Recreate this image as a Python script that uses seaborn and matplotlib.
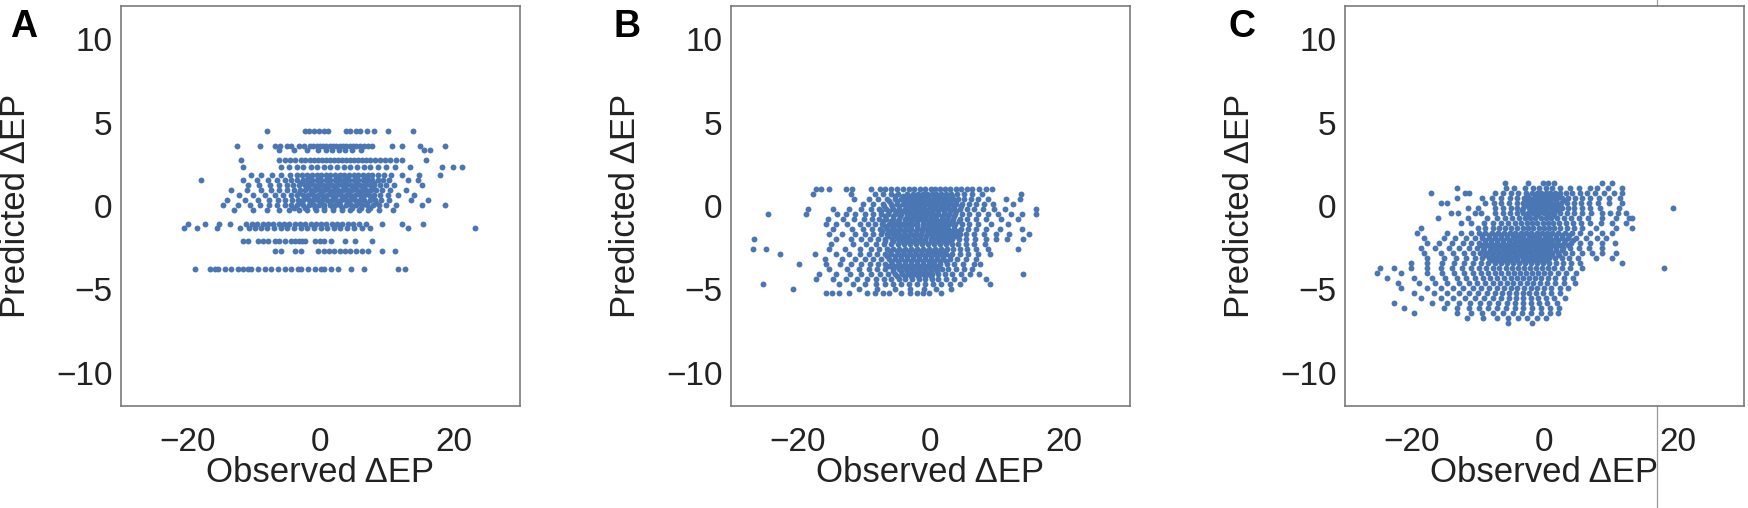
import matplotlib
matplotlib.use("Agg")
import matplotlib.pyplot as plt
from matplotlib.lines import Line2D
import pandas as pd
import seaborn as sns

# Panel A: predicted values fall on discrete levels, observed values per level
a_levels = [4.5, 3.6, 3.35, 2.75, 2.35, 1.85, 1.55, 1.25, 0.95, 0.65, 0.35, 0.05, -0.25, -1.1, -1.3, -2.1, -2.7, -3.8]
a_obs = [
    [-8.1, -2.3, -1.7, -1.0, -0.2, 0.6, 1.2, 3.9, 4.5, 5.3, 6.0, 7.0, 8.1, 10.2, 13.9],
    [-12.6, -9.1, -6.8, -6.1, -5.0, -4.4, -3.3, -2.5, -1.6, -1.1, -0.6, -0.1, 0.4, 0.9, 1.4, 1.9, 2.4, 2.9, 3.4, 3.9, 4.4, 4.9, 5.4, 5.9, 6.5, 7.2, 7.8, 10.7, 12.2, 14.9, 18.7],
    [-6.3, -4.0, -2.0, -0.4, 0.8, 1.7, 2.8, 3.7, 4.8, 6.1, 15.6, 16.4],
    [-12.0, -6.2, -5.3, -4.6, -3.8, -3.0, -2.3, -1.6, -1.0, -0.4, 0.2, 0.8, 1.4, 2.0, 2.6, 3.2, 3.8, 4.4, 5.0, 5.6, 6.2, 6.8, 7.5, 8.2, 8.9, 9.7, 10.4, 11.3, 12.3, 15.8],
    [-11.7, -6.0, -4.8, -3.6, -2.6, -1.5, -0.5, 0.5, 1.5, 2.5, 3.5, 4.5, 5.5, 6.5, 7.5, 8.6, 9.8, 11.2, 13.4, 18.2, 19.9, 21.3],
    [-10.4, -8.9, -7.3, -5.9, -4.6, -3.6, -2.8, -2.0, -1.3, -0.6, 0.1, 0.8, 1.5, 2.2, 2.9, 3.6, 4.3, 5.0, 5.7, 6.4, 7.1, 7.8, 8.6, 9.5, 10.6, 12.2, 14.8, 17.9],
    [-17.9, -11.7, -9.6, -7.9, -6.6, -5.4, -4.4, -3.5, -2.7, -2.0, -1.3, -0.6, 0.1, 0.8, 1.5, 2.2, 2.9, 3.6, 4.3, 5.0, 5.7, 6.4, 7.1, 7.8, 8.6, 9.4, 10.3, 13.1, 14.6],
    [-10.9, -9.2, -7.6, -6.3, -5.1, -4.1, -3.2, -2.4, -1.7, -1.0, -0.3, 0.4, 1.1, 1.8, 2.5, 3.2, 3.9, 4.6, 5.3, 6.0, 6.7, 7.4, 8.1, 8.9, 9.8, 11.0, 15.2],
    [-13.4, -11.0, -9.0, -7.5, -6.2, -5.0, -4.0, -3.1, -2.3, -1.5, -0.8, -0.1, 0.6, 1.3, 2.0, 2.7, 3.4, 4.1, 4.8, 5.5, 6.2, 6.9, 7.6, 8.4, 9.3, 10.4, 12.9],
    [-12.2, -10.1, -8.3, -6.8, -5.6, -4.5, -3.6, -2.7, -1.9, -1.1, -0.4, 0.3, 1.0, 1.7, 2.4, 3.1, 3.8, 4.5, 5.2, 5.9, 6.6, 7.3, 8.1, 9.0, 10.1, 11.6, 14.0],
    [-14.1, -11.3, -9.4, -7.8, -6.4, -5.3, -4.3, -3.4, -2.6, -1.8, -1.1, -0.4, 0.3, 1.0, 1.7, 2.4, 3.1, 3.8, 4.5, 5.2, 5.9, 6.6, 7.4, 8.2, 9.1, 10.3, 13.6, 16.2],
    [-14.6, -12.4, -10.6, -9.1, -7.7, -6.5, -5.4, -4.4, -3.5, -2.6, -1.8, -1.0, -0.2, 0.6, 1.4, 2.2, 3.0, 3.8, 4.6, 5.4, 6.2, 7.0, 7.9, 8.8, 9.9, 11.3, 15.2, 18.7],
    [-13.0, -10.2, -8.0, -6.2, -4.7, -3.3, -2.0, -0.7, 0.6, 1.9, 3.2, 4.5, 5.8, 7.2, 8.8, 10.9],
    [-20.0, -17.4, -15.3, -13.6, -11.2, -10.3, -9.5, -8.7, -7.9, -7.1, -6.3, -5.5, -4.7, -3.9, -3.1, -2.3, -1.5, -0.7, 0.1, 0.9, 1.7, 2.5, 3.3, 4.1, 4.9, 5.8, 6.8, 9.3, 12.3, 15.4],
    [-20.6, -18.6, -15.6, -12.1, -10.8, -9.8, -8.9, -8.0, -7.0, -6.0, -5.0, -4.0, -3.0, -2.0, -1.0, 0.0, 1.0, 2.0, 3.0, 4.0, 5.1, 6.2, 7.4, 13.2, 23.2],
    [-11.6, -10.9, -9.4, -8.7, -7.9, -6.9, -6.2, -5.4, -4.4, -3.9, -3.3, -2.8, -2.3, -0.8, -0.1, 0.6, 1.6, 3.7, 5.2, 7.7],
    [-6.9, -5.9, -3.9, -2.9, -0.4, 0.5, 1.3, 2.1, 2.9, 3.7, 4.5, 5.4, 6.2, 7.2, 9.2, 11.2],
    [-18.9, -16.6, -15.9, -15.4, -14.4, -13.4, -12.4, -11.7, -10.9, -10.4, -9.4, -8.4, -7.4, -6.4, -5.4, -4.4, -3.4, -2.9, -1.9, -0.9, 0.1, 0.6, 1.6, 2.6, 4.6, 6.6, 11.7, 12.7],
]
# extra points in the dense centre of panel A
a_core_levels = [1.7, 1.4, 1.1, 0.8, 0.5, 0.2, -0.1]
a_core_obs = [
    [-1.6, -0.2, 1.2, 2.6, 4.0, 5.4, 6.8],
    [-3.0, -1.6, -0.3, 1.1, 2.5, 3.9, 5.3, 6.7, 8.0],
    [-2.0, -0.6, 0.8, 2.2, 3.6, 5.0, 6.4, 7.8],
    [-3.2, -1.5, 0.0, 1.4, 2.8, 4.2, 5.6, 7.0],
    [-2.2, -0.8, 0.6, 2.0, 3.4, 4.8, 6.2, 7.7],
    [-3.0, -1.4, 0.0, 1.4, 2.8, 4.2, 5.6, 7.0, 8.4],
    [-4.0, -2.3, -0.9, 0.5, 1.9, 3.3, 4.7, 6.1, 7.5],
]

# Panel B
b_levels = [1.0, 0.75, 0.45, 0.15, -0.15, -0.45, -0.75, -1.05, -1.35, -1.65, -1.95, -2.25, -2.55, -2.85, -3.15, -3.45, -3.75, -4.05, -4.35, -4.65, -4.95, -5.2]
b_obs = [
    [-17.2, -16.4, -15.3, -12.7, -11.8, -9.0, -7.6, -6.8, -6.0, -5.0, -4.2, -3.3, -2.5, -1.6, -0.8, 0.0, 0.7, 1.5, 2.2, 3.0, 3.8, 4.6, 5.5, 6.3, 7.3, 8.4, 9.3],
    [-17.6, -12.0, -8.3, -7.2, -5.9, -4.9, -3.6, -2.6, -1.9, -1.2, -0.5, 0.2, 0.9, 1.6, 2.3, 3.1, 4.0, 5.0, 6.2, 7.8, 13.6],
    [-11.5, -9.2, -7.9, -6.6, -5.4, -4.5, -3.7, -3.0, -2.3, -1.6, -0.9, -0.2, 0.5, 1.2, 1.9, 2.6, 3.4, 4.2, 5.1, 6.1, 7.2, 8.6, 11.4, 13.4],
    [-10.1, -8.7, -7.2, -6.0, -5.0, -4.1, -3.3, -2.5, -1.8, -1.1, -0.4, 0.3, 1.0, 1.7, 2.4, 3.1, 3.9, 4.8, 5.8, 6.9, 8.1, 9.4, 12.4],
    [-18.4, -14.6, -12.2, -10.5, -9.0, -7.8, -6.7, -5.7, -4.8, -3.9, -3.1, -2.3, -1.5, -0.8, -0.1, 0.6, 1.3, 2.0, 2.8, 3.6, 4.5, 5.5, 6.6, 7.9, 9.6, 11.2, 15.9],
    [-24.5, -18.7, -14.0, -12.7, -11.3, -9.9, -8.6, -7.5, -6.4, -5.4, -4.5, -3.6, -2.8, -2.0, -1.2, -0.4, 0.4, 1.2, 2.0, 2.8, 3.7, 4.7, 5.8, 7.1, 8.6, 10.2, 12.1, 13.7, 15.9],
    [-15.4, -13.1, -11.5, -10.0, -8.8, -7.7, -6.7, -5.7, -4.8, -3.9, -3.1, -2.3, -1.5, -0.7, 0.1, 0.9, 1.7, 2.5, 3.4, 4.4, 5.5, 6.8, 8.3, 10.6, 13.1],
    [-15.7, -14.2, -12.5, -10.6, -9.4, -8.3, -7.3, -6.3, -5.4, -4.5, -3.6, -2.8, -2.0, -1.2, -0.4, 0.4, 1.2, 2.0, 2.8, 3.7, 4.7, 5.8, 7.2, 9.1, 11.6],
    [-14.7, -11.8, -10.1, -8.8, -7.6, -6.5, -5.5, -4.6, -3.7, -2.9, -2.1, -1.3, -0.5, 0.3, 1.1, 1.9, 2.7, 3.6, 4.6, 5.7, 6.9, 8.4, 10.4, 13.7],
    [-15.2, -13.3, -11.4, -9.9, -8.6, -7.5, -6.5, -5.6, -4.7, -3.8, -3.0, -2.2, -1.4, -0.6, 0.2, 1.0, 1.8, 2.6, 3.5, 4.4, 5.4, 6.6, 8.0, 9.9, 11.8, 14.8],
    [-26.5, -14.2, -12.0, -10.4, -9.1, -7.9, -6.8, -5.8, -4.9, -4.0, -3.2, -2.4, -1.6, -0.8, 0.0, 0.8, 1.6, 2.4, 3.3, 4.3, 5.4, 6.7, 8.3, 9.9, 11.5, 13.9],
    [-15.0, -11.6, -9.7, -8.2, -7.0, -5.9, -4.9, -4.0, -3.1, -2.2, -1.3, -0.4, 0.5, 1.4, 2.3, 3.2, 4.2, 5.3, 6.6, 8.2],
    [-26.7, -24.7, -15.2, -12.8, -10.6, -9.0, -7.7, -6.6, -5.6, -4.7, -3.8, -2.9, -2.0, -1.1, -0.2, 0.7, 1.6, 2.5, 3.4, 4.4, 5.5, 6.9, 8.7, 13.2],
    [-22.7, -17.4, -14.2, -12.3, -10.6, -9.2, -8.0, -6.9, -5.9, -4.9, -4.0, -3.1, -2.2, -1.3, -0.4, 0.5, 1.4, 2.3, 3.3, 4.4, 5.7, 7.2, 9.0],
    [-15.9, -13.3, -11.4, -9.9, -8.6, -7.4, -6.3, -5.3, -4.4, -3.5, -2.6, -1.7, -0.8, 0.1, 1.0, 1.9, 2.9, 4.0, 5.3, 6.8],
    [-19.7, -15.7, -13.6, -11.9, -10.4, -9.1, -7.9, -6.8, -5.8, -4.8, -3.9, -3.0, -2.1, -1.2, -0.3, 0.6, 1.5, 2.5, 3.6, 4.9, 6.5, 7.4],
    [-15.2, -12.6, -10.8, -9.3, -8.0, -6.8, -5.7, -4.7, -3.7, -2.8, -1.9, -1.0, -0.1, 0.8, 1.7, 2.7, 3.8, 5.1, 6.2],
    [-16.8, -14.2, -12.1, -10.4, -8.9, -7.6, -6.4, -5.3, -4.3, -3.3, -2.4, -1.5, -0.6, 0.3, 1.2, 2.2, 3.3, 4.6, 6.0, 7.3, 13.9],
    [-17.2, -14.6, -12.7, -11.0, -9.5, -8.2, -7.0, -5.9, -4.8, -3.8, -2.8, -1.8, -0.8, 0.2, 1.2, 2.3, 3.5, 5.0, 8.4],
    [-25.2, -13.7, -11.6, -9.8, -8.2, -6.9, -5.6, -4.4, -3.2, -2.0, -0.8, 0.4, 1.6, 3.0, 4.4, 8.9],
    [-20.7, -10.7, -8.0, -5.4, -3.1, -1.0, 0.9, 3.1],
    [-15.7, -14.8, -13.7, -12.2, -9.5, -8.3, -7.2, -6.2, -4.4, -3.1, -2.1, -1.2, -0.3, 1.6],
]
b_core_levels = [0.6, 0.3, 0.0, -0.3, -0.6, -0.9, -1.2, -1.5, -1.8, -2.1, -2.7, -3.0, -3.3, -3.6, -3.9, -4.2]
b_core_obs = [
    [-5.3, -4.2, -3.2, -2.2, -1.3, -0.4, 0.5, 1.4, 2.3, 3.3],
    [-6.2, -5.0, -3.9, -2.9, -2.0, -1.2, -0.4, 0.4, 1.2, 2.0, 2.9, 3.9],
    [-7.0, -5.8, -4.7, -3.7, -2.8, -1.9, -1.0, -0.1, 0.8, 1.7, 2.6, 3.6, 4.6],
    [-7.4, -6.2, -5.1, -4.2, -3.3, -2.4, -1.6, -0.7, 0.2, 1.1, 2.0, 2.9, 3.9],
    [-6.8, -5.7, -4.6, -3.6, -2.7, -1.8, -0.9, 0.0, 0.9, 1.8, 2.7, 3.6],
    [-7.2, -6.0, -4.9, -3.9, -3.0, -2.1, -1.2, -0.3, 0.6, 1.5, 2.4, 3.3, 4.3],
    [-6.9, -5.8, -4.8, -3.8, -2.9, -2.0, -1.1, -0.2, 0.7, 1.6, 2.5, 3.5],
    [-7.3, -6.1, -5.0, -4.0, -3.1, -2.2, -1.3, -0.4, 0.5, 1.4, 2.3, 3.2, 4.2],
    [-6.4, -5.3, -4.3, -3.4, -2.5, -1.6, -0.7, 0.2, 1.1, 2.0, 2.9, 3.9],
    [-6.9, -5.6, -4.5, -3.5, -2.6, -1.7, -0.8, 0.1, 1.0, 1.9, 2.8],
    [-6.1, -5.1, -4.2, -3.3, -2.4, -1.5, -0.6, 0.3, 1.2, 2.1],
    [-6.5, -5.4, -4.4, -3.5, -2.6, -1.7, -0.8, 0.1, 1.0, 1.9, 2.9],
    [-5.9, -4.9, -3.9, -3.0, -2.1, -1.2, -0.3, 0.6, 1.5, 2.4],
    [-6.3, -5.2, -4.2, -3.3, -2.4, -1.5, -0.6, 0.3, 1.2],
    [-5.6, -4.5, -3.5, -2.6, -1.7, -0.8, 0.1, 1.0],
    [-5.0, -3.9, -2.9, -1.9, -0.9, 0.1],
]

# Panel C
c_levels = [1.4, 1.1, 0.8, 0.5, 0.2, -0.1, -0.4, -0.7, -1.0, -1.3, -1.6, -1.9, -2.2, -2.5, -2.8, -3.1, -3.4, -3.7, -4.0, -4.3, -4.6, -4.9, -5.2, -5.5, -5.8, -6.1, -6.4, -6.7, -7.0]
c_obs = [
    [-6.0, -2.5, -0.2, 0.5, 1.5, 8.7, 10.2],
    [-13.2, -5.8, -4.6, -2.9, -1.8, -0.9, 0.2, 1.1, 2.3, 3.9, 5.2, 6.8, 7.9, 9.6, 11.7],
    [-17.1, -12.0, -11.4, -7.5, -6.3, -5.0, -4.0, -2.8, -1.9, -1.2, -0.5, 0.2, 0.9, 1.6, 2.4, 3.3, 4.2, 5.3, 6.4, 7.6, 9.0, 10.5, 11.7],
    [-13.1, -9.4, -7.9, -6.5, -5.2, -4.1, -3.1, -2.3, -1.6, -0.9, -0.2, 0.5, 1.2, 1.9, 2.7, 3.6, 4.6, 5.7, 6.9, 8.2, 9.7, 11.3],
    [-15.6, -14.6, -9.0, -7.6, -6.5, -5.3, -4.2, -3.3, -2.5, -1.8, -1.1, -0.4, 0.3, 1.0, 1.7, 2.5, 3.4, 4.4, 5.5, 6.7, 8.0, 9.7, 11.7],
    [-11.5, -10.0, -7.4, -6.2, -5.1, -4.1, -3.2, -2.4, -1.7, -1.0, -0.3, 0.4, 1.1, 1.8, 2.6, 3.5, 4.5, 5.6, 6.9, 8.3, 11.2, 19.3],
    [-14.0, -13.0, -10.5, -9.5, -7.5, -6.3, -5.2, -4.2, -3.3, -2.5, -1.7, -0.9, -0.1, 0.7, 1.5, 2.4, 3.4, 4.5, 5.7, 7.0, 8.7, 9.8, 11.0, 12.2],
    [-16.0, -11.5, -8.6, -7.2, -6.0, -4.9, -3.9, -3.0, -2.2, -1.4, -0.6, 0.2, 1.0, 1.9, 2.9, 4.0, 5.2, 6.5, 8.7, 10.7, 12.7, 13.2],
    [-12.6, -11.0, -9.1, -7.8, -6.6, -5.5, -4.5, -3.6, -2.7, -1.9, -1.1, -0.3, 0.5, 1.3, 2.2, 3.2, 4.3, 5.5, 6.8, 8.5, 10.2, 12.2],
    [-18.6, -10.0, -8.9, -7.8, -6.8, -5.9, -5.0, -4.1, -3.3, -2.5, -1.7, -0.9, -0.1, 0.7, 1.5, 2.4, 3.4, 4.5, 5.7, 7.7, 10.7, 13.2],
    [-19.1, -14.6, -12.6, -11.0, -9.9, -8.9, -7.9, -7.0, -6.1, -5.2, -4.4, -3.6, -2.8, -2.0, -1.2, -0.4, 0.4, 1.2, 2.1, 3.1, 4.2, 5.4, 6.8, 8.7, 10.2],
    [-18.1, -15.1, -13.4, -11.8, -10.5, -9.4, -8.4, -7.5, -6.6, -5.7, -4.8, -4.0, -3.2, -2.4, -1.6, -0.8, 0.0, 0.8, 1.7, 2.6, 3.6, 4.8, 6.2, 7.9, 9.2],
    [-17.6, -15.8, -13.9, -12.3, -11.0, -9.9, -8.9, -8.0, -7.1, -6.2, -5.4, -4.6, -3.8, -3.0, -2.2, -1.4, -0.6, 0.2, 1.0, 1.9, 2.9, 4.0, 5.3, 6.9, 8.7, 10.6],
    [-18.6, -16.4, -14.4, -12.8, -11.4, -10.2, -9.1, -8.1, -7.2, -6.3, -5.5, -4.7, -3.9, -3.1, -2.3, -1.5, -0.7, 0.1, 0.9, 1.8, 2.8, 3.9, 5.2, 6.7, 8.7],
    [-18.1, -15.6, -13.7, -12.1, -10.8, -9.7, -8.7, -7.8, -6.9, -6.0, -5.2, -4.4, -3.6, -2.8, -2.0, -1.2, -0.4, 0.4, 1.2, 2.1, 3.1, 4.2, 5.6, 7.2, 8.7, 10.7],
    [-17.6, -15.1, -13.3, -11.8, -10.5, -9.4, -8.4, -7.5, -6.6, -5.7, -4.9, -4.1, -3.3, -2.5, -1.7, -0.9, -0.1, 0.7, 1.6, 2.6, 3.7, 5.0, 7.7, 10.2],
    [-20.1, -17.6, -15.4, -13.6, -12.1, -10.8, -9.6, -8.5, -7.5, -6.5, -5.6, -4.7, -3.8, -2.9, -2.0, -1.1, -0.2, 0.7, 1.7, 2.8, 4.0, 5.4, 11.7],
    [-24.7, -22.7, -20.1, -17.6, -15.6, -13.9, -12.4, -11.1, -9.9, -8.8, -7.8, -6.8, -5.8, -4.9, -4.0, -3.1, -2.2, -1.3, -0.4, 0.5, 1.5, 2.6, 3.8, 5.6, 18.0],
    [-25.2, -21.6, -17.7, -15.4, -13.6, -12.1, -10.8, -9.6, -8.5, -7.5, -6.5, -5.5, -4.6, -3.7, -2.8, -1.9, -1.0, -0.1, 0.9, 2.0, 3.3, 4.8],
    [-23.7, -19.6, -16.9, -14.9, -13.2, -11.8, -10.5, -9.3, -8.2, -7.1, -6.1, -5.1, -4.1, -3.2, -2.3, -1.4, -0.5, 0.5, 1.6, 2.9, 4.3],
    [-22.1, -18.9, -16.4, -14.6, -12.9, -11.4, -10.1, -8.9, -7.8, -6.7, -5.7, -4.7, -3.7, -2.7, -1.7, -0.7, 0.4, 1.6, 3.0, 4.6],
    [-21.6, -17.6, -15.6, -13.8, -12.2, -10.8, -9.5, -8.3, -7.2, -6.1, -5.1, -4.1, -3.1, -2.1, -1.1, -0.1, 1.0, 2.3, 3.6],
    [-19.6, -16.6, -14.6, -12.9, -11.4, -10.0, -8.7, -7.5, -6.4, -5.3, -4.3, -3.3, -2.3, -1.3, -0.2, 1.0, 2.4],
    [-18.6, -15.6, -13.7, -12.0, -10.5, -9.1, -7.8, -6.6, -5.4, -4.3, -3.2, -2.1, -1.0, 0.2, 1.5, 3.1],
    [-22.6, -16.9, -14.6, -12.8, -11.2, -9.7, -8.3, -7.0, -5.7, -4.5, -3.3, -2.1, -0.9, 0.4, 1.9],
    [-21.1, -15.1, -13.1, -11.4, -9.9, -8.5, -7.1, -5.8, -4.5, -3.2, -1.9, -0.6, 0.8, 2.2],
    [-19.6, -13.1, -11.1, -9.4, -7.8, -6.3, -4.8, -3.4, -2.0, -0.6, 0.9, 2.1],
    [-11.6, -9.2, -7.1, -5.5, -4.0, -2.6, -1.2, 0.3],
    [-5.5, -1.9],
]
# extra points in the two dense lobes of panel C
c_core_levels = [0.65, 0.35, 0.05, -0.25, -0.55, -1.75, -2.05, -2.35, -2.65, -2.95, -3.25]
c_core_obs = [
    [-2.6, -1.5, -0.6, 0.3, 1.3, 2.2],
    [-3.0, -2.0, -1.3, -0.5, 0.2, 0.9, 1.8, 2.9],
    [-2.8, -2.0, -1.3, -0.6, 0.1, 0.8, 1.5, 2.2],
    [-3.4, -2.1, -1.3, -0.5, 0.3, 1.2, 2.0],
    [-2.5, -1.1, 0.6, 1.5],
    [-9.4, -8.3, -7.4, -6.5, -5.6, -4.8, -4.0, -3.2, -2.4, -1.6, -0.8, 0.0, 0.8, 1.7, 2.7, 3.7],
    [-9.0, -8.0, -7.1, -6.2, -5.3, -4.4, -3.6, -2.8, -2.0, -1.2, -0.4, 0.4, 1.2, 2.1, 3.1, 4.3],
    [-9.6, -8.5, -7.6, -6.7, -5.8, -5.0, -4.2, -3.4, -2.6, -1.8, -1.0, -0.2, 0.6, 1.4, 2.4, 3.5],
    [-9.2, -8.2, -7.3, -6.4, -5.6, -4.8, -4.0, -3.2, -2.4, -1.6, -0.8, 0.0, 0.8, 1.7, 2.7],
    [-8.9, -7.9, -7.0, -6.1, -5.3, -4.5, -3.7, -2.9, -2.1, -1.3, -0.5, 0.3, 1.2, 2.2],
    [-8.0, -7.0, -6.0, -5.1, -4.2, -3.3, -2.4, -1.5, -0.6, 0.3],
]

panel_letters = ["A", "B", "C"]
x_ticks = [-20, 0, 20]
y_ticks = [-10, -5, 0, 5, 10]


def to_frame(*pairs):
    rows = []
    for levels, obs in pairs:
        rows += [(x, y) for y, xs in zip(levels, obs) for x in xs]
    return pd.DataFrame(rows, columns=["observed", "predicted"])


panels = [
    to_frame((a_levels, a_obs), (a_core_levels, a_core_obs)),
    to_frame((b_levels, b_obs), (b_core_levels, b_core_obs)),
    to_frame((c_levels, c_obs), (c_core_levels, c_core_obs)),
]

sns.set_style("white")
plt.rcParams["font.family"] = ["Liberation Sans", "DejaVu Sans"]

fig = plt.figure(figsize=(17.48, 5.08), dpi=100)
lefts = [121, 731, 1345]
letter_x = [10, 613, 1228]
W, H = 1748, 508

for i, df in enumerate(panels):
    ax = fig.add_axes([lefts[i] / W, 102 / H, 399 / W, 400 / H])
    sns.scatterplot(data=df, x="observed", y="predicted", ax=ax, s=18,
                    color="#4a76b3", linewidth=0)
    ax.set_xlim(-30, 30)
    ax.set_ylim(-12, 12)
    ax.set_xticks(x_ticks)
    ax.set_yticks(y_ticks)
    ax.set_xlabel("Observed ΔEP", fontsize=25, color="#222222")
    ax.set_ylabel("Predicted ΔEP", fontsize=25, color="#222222")
    ax.xaxis.set_label_coords(0.5, -0.125)
    ax.yaxis.set_label_coords(-0.222, 0.5)
    for sp in ax.spines.values():
        sp.set_color("#7a7a7a")
        sp.set_linewidth(1.2)
    ax.tick_params(axis="both", colors="#7a7a7a", length=4, width=1.0, labelsize=24,
                   labelcolor="#222222")
    ax.tick_params(axis="x", pad=11)
    ax.tick_params(axis="y", pad=2)
    fig.text(letter_x[i] / W, 1 - 9 / H, panel_letters[i], fontsize=27,
             fontweight="bold", ha="left", va="top", color="black")

# thin vertical rule visible around panel C
fig.add_artist(Line2D([1657 / W, 1657 / W], [0, 1], color="#9a9a9a", lw=0.9, zorder=-1))

fig.savefig("out.png", dpi=100, facecolor="white")
